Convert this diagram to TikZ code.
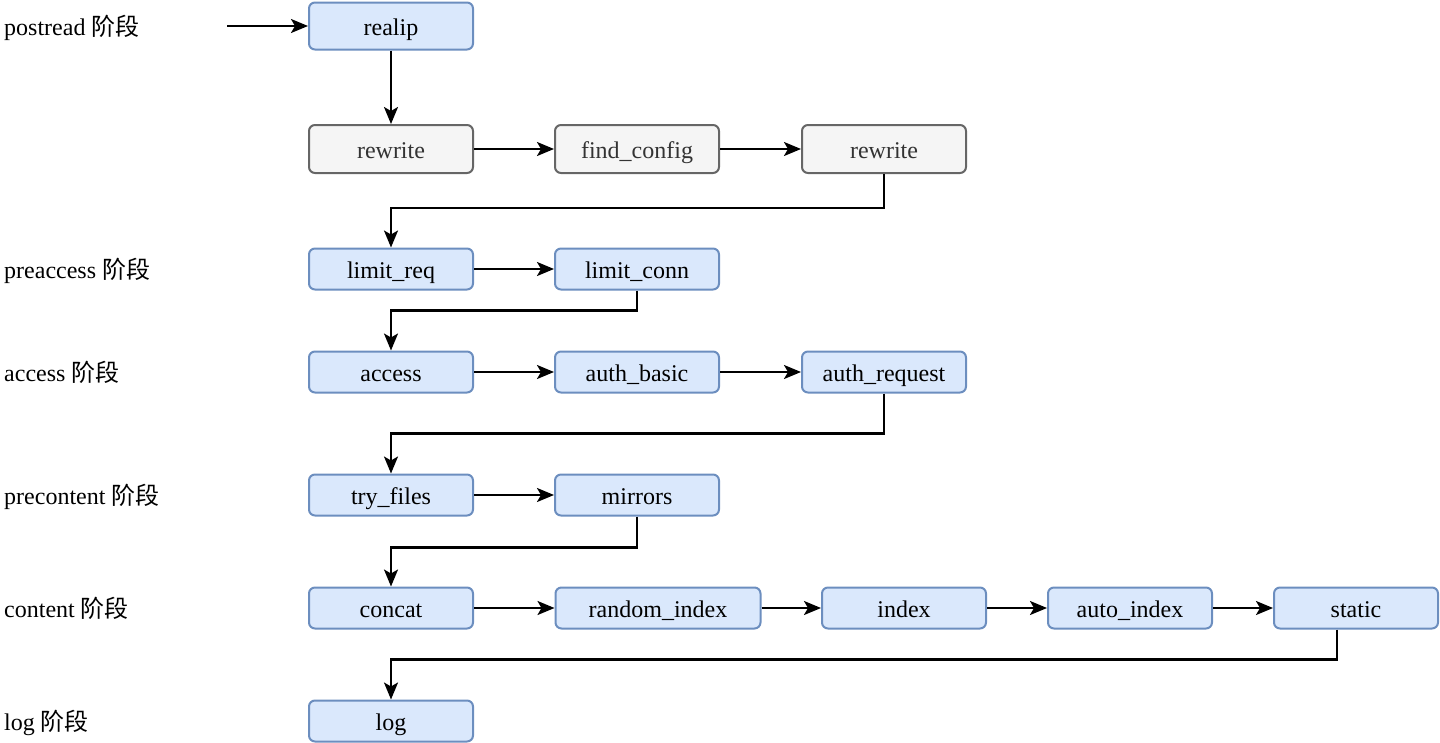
\documentclass[tikz,border=0pt]{standalone}
\usepackage{fontspec}
\setmainfont{Liberation Serif}
\newfontfamily\cjk{Noto Sans CJK SC}
\usetikzlibrary{arrows.meta}
\definecolor{bfill}{HTML}{DAE8FC}
\definecolor{bline}{HTML}{6C8EBF}
\definecolor{gfill}{HTML}{F5F5F5}
\definecolor{gline}{HTML}{666666}
\definecolor{gtext}{HTML}{333333}
\tikzset{
  x=1pt, y=-1pt,
  boxtext/.style={font=\fontsize{24}{28}\selectfont, text height=20pt, text depth=2pt},
  bluebox/.style={draw=bline, fill=bfill, line width=2pt, rounded corners=6pt,
    minimum width=164pt, minimum height=41pt, inner sep=0pt, boxtext},
  graybox/.style={draw=gline, fill=gfill, line width=2pt, rounded corners=6pt, text=gtext,
    minimum width=164pt, minimum height=48pt, inner sep=0pt, boxtext},
  stagelabel/.style={anchor=base west, inner sep=0pt, font=\fontsize{24}{28}\selectfont},
  conn/.style={line width=2.2pt, -{Stealth[length=17pt,width=14pt,inset=4pt]}},
}
\newcommand{\zh}[1]{{\cjk #1}}
\begin{document}
\begin{tikzpicture}
\useasboundingbox (0,0) rectangle (1440,742);
% stage labels
\node[stagelabel] (l1) at (4,35) {postread \zh{阶段}};
\node[stagelabel] (l2) at (4,278) {preaccess \zh{阶段}};
\node[stagelabel] (l3) at (4,381) {access \zh{阶段}};
\node[stagelabel] (l4) at (4,504) {precontent \zh{阶段}};
\node[stagelabel] (l5) at (4,617) {content \zh{阶段}};
\node[stagelabel] (l6) at (4,730) {log \zh{阶段}};
% nodes
\node[bluebox, minimum height=47pt] (realip) at (391,26) {realip};
\node[graybox] (rw1) at (391,149) {rewrite};
\node[graybox] (fc) at (637,149) {find\_config};
\node[graybox] (rw2) at (884,149) {rewrite};
\node[bluebox] (lreq) at (391,269) {limit\_req};
\node[bluebox] (lconn) at (637,269) {limit\_conn};
\node[bluebox] (acc) at (391,372) {access};
\node[bluebox] (ab) at (637,372) {auth\_basic};
\node[bluebox] (ar) at (884,372) {auth\_request};
\node[bluebox] (tf) at (391,495) {try\_files};
\node[bluebox] (mir) at (637,495) {mirrors};
\node[bluebox] (cc) at (391,608) {concat};
\node[bluebox, minimum width=205pt] (ri) at (658,608) {random\_index};
\node[bluebox] (idx) at (904,608) {index};
\node[bluebox] (ai) at (1130,608) {auto\_index};
\node[bluebox] (st) at (1356,608) {static};
\node[bluebox] (lg) at (391,721) {log};
% connectors
\coordinate (start) at (227,26);
\draw[conn] (start) -- (realip.west);
\draw[conn] (realip.south) -- (rw1.north);
\draw[conn] (rw1.east) -- (fc.west);
\draw[conn] (fc.east) -- (rw2.west);
\draw[conn] (rw2.south) -- ++(0,34) -| (lreq.north);
\draw[conn] (lreq.east) -- (lconn.west);
\draw[conn] (lconn.south) -- ++(0,20) -| (acc.north);
\draw[conn] (acc.east) -- (ab.west);
\draw[conn] (ab.east) -- (ar.west);
\draw[conn] (ar.south) -- ++(0,40) -| (tf.north);
\draw[conn] (tf.east) -- (mir.west);
\draw[conn] (mir.south) -- ++(0,31) -| (cc.north);
\draw[conn] (cc.east) -- (ri.west);
\draw[conn] (ri.east) -- (idx.west);
\draw[conn] (idx.east) -- (ai.west);
\draw[conn] (ai.east) -- (st.west);
\draw[conn] ([xshift=-19pt]st.south) -- ++(0,30) -| (lg.north);
\end{tikzpicture}
\end{document}
